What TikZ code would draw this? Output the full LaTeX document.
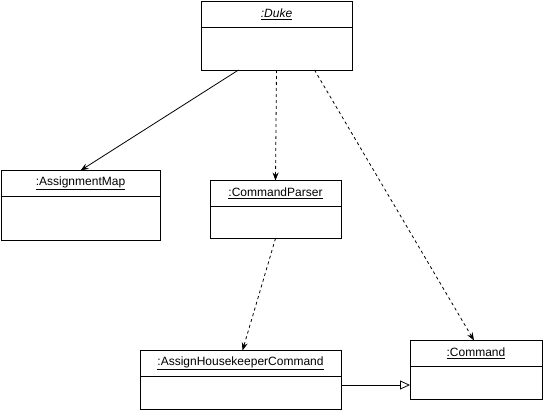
\documentclass[tikz,border=0pt]{standalone}
\usepackage{fontspec}
\setmainfont{Liberation Sans}
\usetikzlibrary{arrows.meta,positioning}

\begin{document}
\begin{tikzpicture}[x=1pt,y=-1pt,line width=0.8pt,>={Stealth[length=8pt,width=6pt]},
  obj head/.style={draw,minimum width=#1,minimum height=26pt,inner sep=0pt,outer sep=0pt,font=\fontsize{12}{14}\selectfont},
  obj body/.style={draw,minimum width=#1,inner sep=0pt,outer sep=0pt},
  dep/.style={->,dashed,dash pattern=on 3pt off 3pt},
  inherit/.style={-{Triangle[open,length=10pt,width=9pt]}}]

  \useasboundingbox (0,0) rectangle (543,412);

  % objects
  \node[obj head=151pt] (duke) at (276.5,14) {\textit{\underline{:Duke}}};
  \node[obj body=151pt,minimum height=43pt,below=0pt of duke] (dukeb) {};

  \node[obj head=159pt] (amap) at (80.5,183.5) {\underline{:AssignmentMap}};
  \node[obj body=159pt,minimum height=44pt,below=0pt of amap] (amapb) {};

  \node[obj head=131pt] (parser) at (275.5,193.5) {\underline{:CommandParser}};
  \node[obj body=131pt,minimum height=32pt,below=0pt of parser] (parserb) {};

  \node[obj head=201pt] (hk) at (240.5,363.5) {\underline{:AssignHousekeeperCommand}};
  \node[obj body=201pt,minimum height=33pt,below=0pt of hk] (hkb) {};

  \node[obj head=132pt] (cmd) at (476,353.5) {\underline{:Command}};
  \node[obj body=132pt,minimum height=33pt,below=0pt of cmd] (cmdb) {};

  % connectors
  \draw[->] ([xshift=-38pt]dukeb.south) -- (amap.north);
  \draw[dep] (dukeb.south) -- (parser.north);
  \draw[dep] ([xshift=38pt]dukeb.south) -- ([xshift=-2pt]cmd.north);
  \draw[dep] (parserb.south) -- ([xshift=2pt]hk.north);
  \draw[inherit] ([yshift=-2pt]cmdb.west -| hkb.east) -- ([yshift=-2pt]cmdb.west);
\end{tikzpicture}
\end{document}
